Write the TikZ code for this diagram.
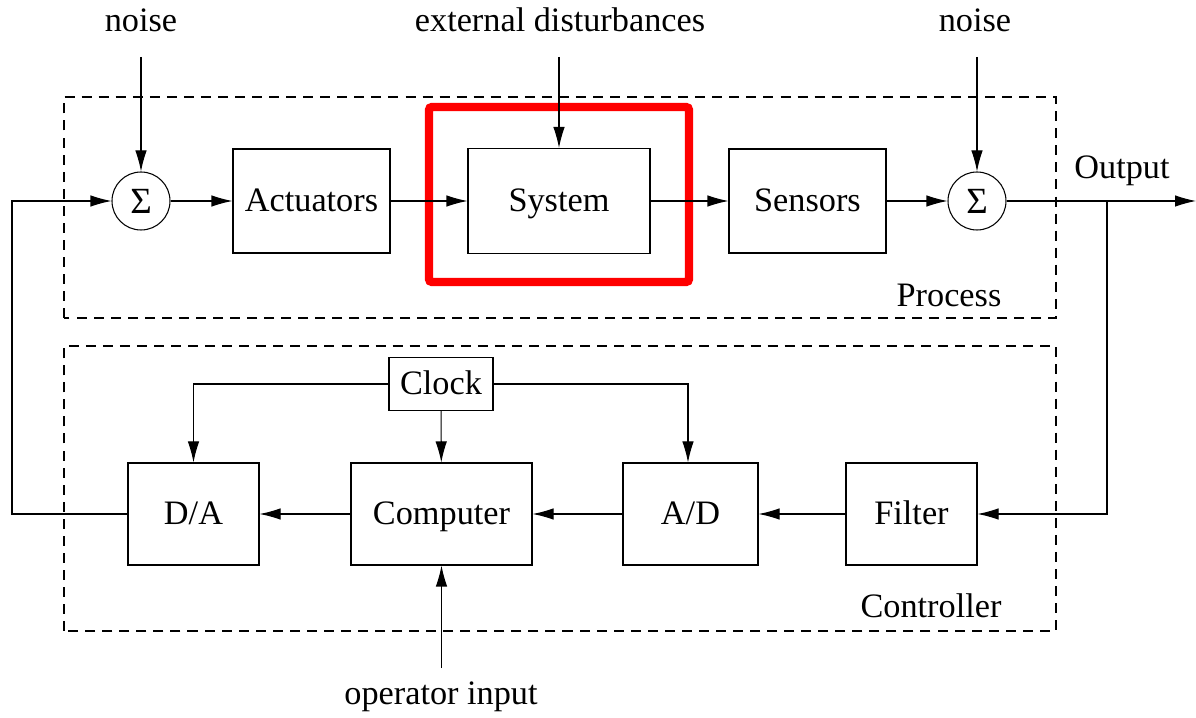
\documentclass[tikz,border=0pt]{standalone}
\usepackage{fontspec}
\setmainfont{Liberation Serif}
\usetikzlibrary{arrows.meta}
\tikzset{
	blk/.style={draw, line width=0.6pt, minimum height=2.08cm, text height=15pt, text depth=3pt, font=\fontsize{19.5}{23}\selectfont},
	sumnode/.style={draw, circle, line width=0.6pt, minimum size=1.16cm, inner sep=0pt, font=\fontsize{21}{24}\selectfont},
	lbl/.style={font=\fontsize{19.5}{23}\selectfont},
	arr/.style={line width=0.6pt, -{Latex[length=4.2mm,width=2.3mm]}},
	frame/.style={line width=0.6pt, dash pattern=on 5.7pt off 4pt}
}
\begin{document}
\begin{tikzpicture}
				\useasboundingbox (0,0) rectangle (23.92,14.34);
				% dashed frames
				\draw [frame] (1.28,7.98) rectangle (21.12,12.4);
				\draw [frame] (1.28,1.72) rectangle (21.12,7.42);
				\node [lbl] (proclbl) at (18.98,8.44) {Process};
				\node [lbl] (ctrllbl) at (18.62,2.22) {Controller};
				% process row
				\node [sumnode] (sumin) at (2.82,10.32) {Σ};
				\node [blk, minimum width=3.14cm] (act) at (6.23,10.32) {Actuators};
				\node [blk, minimum width=3.64cm, minimum height=2.1cm] (sys) at (11.18,10.32) {System};
				\node [blk, minimum width=3.14cm] (sens) at (16.15,10.32) {Sensors};
				\node [sumnode] (sumout) at (19.54,10.32) {Σ};
				\draw [red, line width=4.6pt, rounded corners=1.5pt] (8.58,8.7) rectangle (13.78,12.2);
				% inputs from above
				\node [lbl] (noisein) at (2.82,13.94) {noise};
				\node [lbl] (dist) at (11.2,13.94) {external disturbances};
				\node [lbl] (noiseout) at (19.5,13.94) {noise};
				\node [lbl] (outlbl) at (22.44,10.92) {Output};
				\coordinate (nin) at (2.82,13.2);
				\coordinate (dis) at (11.18,13.2);
				\coordinate (nout) at (19.54,13.2);
				\coordinate (tap) at (22.14,10.32);
				\coordinate (outend) at (23.92,10.32);
				\draw [arr] (nin) -- (sumin);
				\draw [arr] (dis) -- (sys);
				\draw [arr] (nout) -- (sumout);
				\draw [arr] (sumin) -- (act);
				\draw [arr] (act) -- (sys);
				\draw [arr] (sys) -- (sens);
				\draw [arr] (sens) -- (sumout);
				\draw [arr] (sumout) -- (outend);
				% controller row
				\node [blk, minimum width=2.08cm, minimum height=1.06cm] (clock) at (8.82,6.66) {Clock};
				\node [blk, minimum width=2.62cm, minimum height=2.04cm] (da) at (3.87,4.06) {D/A};
				\node [blk, minimum width=3.62cm, minimum height=2.04cm] (comp) at (8.83,4.06) {Computer};
				\node [blk, minimum width=2.7cm, minimum height=2.04cm] (ad) at (13.81,4.06) {A/D};
				\node [blk, minimum width=2.62cm, minimum height=2.04cm] (filt) at (18.23,4.06) {Filter};
				\node [lbl] (opin) at (8.82,0.4) {operator input};
				\coordinate (opstart) at (8.83,0.98);
				\coordinate (back) at (0.24,4.06);
				\draw [arr] (tap) |- (filt);
				\draw [arr] (filt) -- (ad);
				\draw [arr] (ad) -- (comp);
				\draw [arr] (comp) -- (da);
				\draw [arr] (clock) -| (da);
				\draw [arr] (clock) -- (comp);
				\draw [arr] (clock.east) -| ([xshift=-0.05cm]ad.north);
				\draw [arr] (opstart) -- (comp);
				\draw [arr] (da) -- (back) |- (sumin);
			\end{tikzpicture}
\end{document}
